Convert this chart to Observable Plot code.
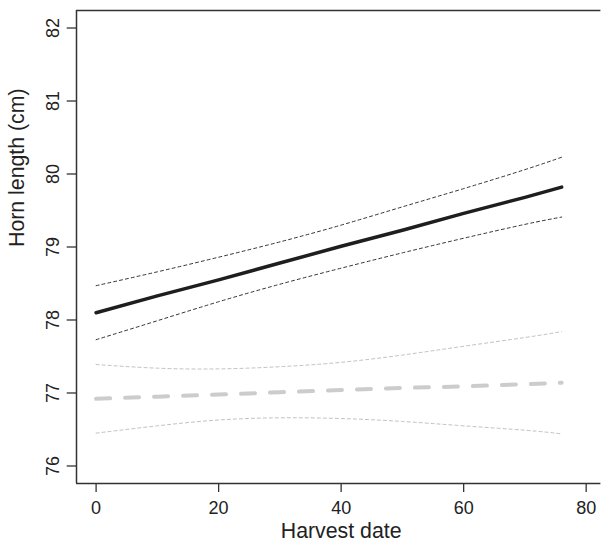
<!DOCTYPE html>
<html>
<head>
<meta charset="utf-8">
<script src="https://cdn.jsdelivr.net/npm/d3@7"></script>
<script src="https://cdn.jsdelivr.net/npm/@observablehq/plot@0.6"></script>
<style>
  html, body { margin: 0; padding: 0; background: #fff; overflow: hidden; }
  #chart svg { display: block; font-family: "Liberation Sans", Arial, sans-serif; }
</style>
</head>
<body>
<div id="chart"></div>
<script>
// Harvest date (x) sample points
const harvestDate = [0, 10, 20, 30, 40, 50, 60, 70, 76];
// Black series: fitted line and confidence band
const blackFit   = [78.10, 78.33, 78.55, 78.78, 79.01, 79.23, 79.46, 79.68, 79.82];
const blackUpper = [78.47, 78.66, 78.86, 79.07, 79.30, 79.55, 79.80, 80.06, 80.23];
const blackLower = [77.73, 77.99, 78.25, 78.49, 78.71, 78.92, 79.12, 79.31, 79.41];
// Grey series: fitted line and confidence band
const greyFit   = [76.92, 76.95, 76.98, 77.01, 77.04, 77.07, 77.09, 77.12, 77.14];
const greyUpper = [77.39, 77.34, 77.33, 77.36, 77.42, 77.52, 77.64, 77.76, 77.84];
const greyLower = [76.45, 76.55, 76.63, 76.66, 76.65, 76.61, 76.55, 76.49, 76.44];
// Axis ticks
const xTicks = [0, 20, 40, 60, 80];
const yTicks = [76, 77, 78, 79, 80, 81, 82];
// visible part of the plotting region (the box continues past the right edge)
const xDomain = [-3.2, 82.5];
const yDomain = [75.76, 82.24];

const series = (vals) => harvestDate.map((x, i) => ({x, y: vals[i]}));

const font = "Liberation Sans, Arial, sans-serif";

const plot = Plot.plot({
  width: 601,
  height: 546,
  marginLeft: 76,
  marginRight: 0,
  marginTop: 10,
  marginBottom: 63,
  style: {fontFamily: font, fontSize: "18px", color: "#222", background: "#fff"},
  x: {domain: xDomain},
  y: {domain: yDomain},
  marks: [
    // grey CI (thin dashed)
    Plot.line(series(greyUpper), {x: "x", y: "y", stroke: "#b8b8b8", strokeWidth: 0.9, strokeDasharray: "3,3", curve: "natural"}),
    Plot.line(series(greyLower), {x: "x", y: "y", stroke: "#b8b8b8", strokeWidth: 0.9, strokeDasharray: "3,3", curve: "natural"}),
    // grey fit (thick dashed)
    Plot.line(series(greyFit), {x: "x", y: "y", stroke: "#cccccc", strokeWidth: 4, strokeDasharray: "14,15"}),
    // black CI (thin dashed)
    Plot.line(series(blackUpper), {x: "x", y: "y", stroke: "#333", strokeWidth: 1, strokeDasharray: "3,3", curve: "natural"}),
    Plot.line(series(blackLower), {x: "x", y: "y", stroke: "#333", strokeWidth: 1, strokeDasharray: "3,3", curve: "natural"}),
    // black fit (thick solid)
    Plot.line(series(blackFit), {x: "x", y: "y", stroke: "#1e1e1e", strokeWidth: 3.5}),
    // box: left, top, bottom (right side falls outside the picture)
    Plot.ruleX([xDomain[0]], {stroke: "#333", strokeWidth: 1.5}),
    Plot.ruleY([yDomain[0]], {x1: xDomain[0], x2: 82.4, stroke: "#333", strokeWidth: 1.5}),
    Plot.ruleY([yDomain[1]], {x1: xDomain[0], x2: 82.4, stroke: "#333", strokeWidth: 1.5}),
    Plot.axisX({ticks: xTicks, tickSize: 9, tickPadding: 8.5, tickFormat: d => String(d), label: null, stroke: "#333", strokeWidth: 1.3, fontSize: 18}),
    Plot.axisY({ticks: yTicks, tickSize: 9.3, tickPadding: 8.4, tickRotate: -90, tickFormat: d => String(d), label: null, stroke: "#333", strokeWidth: 1.3, fontSize: 18}),
    Plot.text(["Harvest date"], {x: 40, frameAnchor: "bottom", dy: 54.5, fontSize: 21.3, fill: "#222"}),
    Plot.text(["Horn length (cm)"], {frameAnchor: "left", dx: -59, rotate: -90, fontSize: 21.3, fill: "#222"})
  ]
});
document.getElementById("chart").appendChild(plot);
</script>
</body>
</html>
